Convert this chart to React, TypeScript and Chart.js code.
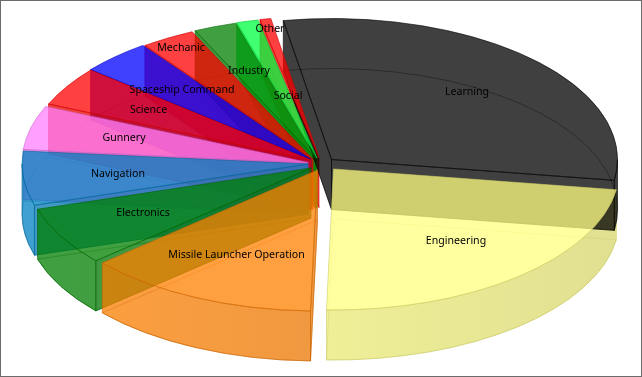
import React, { useEffect, useRef } from "react";
import { Chart, registerables } from "chart.js";

Chart.register(...registerables);

const categories = ["Learning", "Engineering", "Missile Launcher Operation", "Electronics", "Navigation", "Gunnery", "Science", "Spaceship Command", "Mechanic", "Industry", "Social", "Other"];
const shares = [108.2, 82.9, 47.4, 24.2, 22.3, 18.1, 16.2, 14.4, 11, 8.7, 4.4, 2.2];

// Styling and layout of the pseudo-3D pie
const rgb: number[][] = [[0,0,0],[255,255,128],[255,128,0],[0,128,0],[0,128,192],[255,128,255],[255,0,0],[0,0,255],[255,0,0],[0,128,0],[0,255,64],[255,0,0]];
const explodeX = [13.5, 15.5, -0.5, -7, -10, -10, -7, -7, -5, -2, -1, 1];
const explodeY = [0.5, 10, 11, 9, 5, 3.5, 1, 0.5, 0.5, -0.5, -1, -1.5];
const labelX = [467, 456, 236.5, 143, 118, 124, 148.5, 182, 181, 249, 288, 270];
const labelY = [92, 241, 255, 213, 174, 138, 110, 90, 48, 71, 96, 29];
const CX = 318, CY = 159, RX = 286, RY = 141, DEPTH = 50, ALPHA = 0.75;
const wallOrder = [11, 10, 9, 8, 7, 6, 5, 4, 3, 2, 1, 0];
const topOrder = [11, 10, 9, 8, 7, 6, 5, 4, 3, 2, 0, 1];

const col = (c: number[], s: number, a: number) => `rgba(${Math.round(c[0]*s)},${Math.round(c[1]*s)},${Math.round(c[2]*s)},${a})`;

const pie3d = {
  id: "pie3d",
  beforeDatasetsDraw(chart: any) {
    const ctx: CanvasRenderingContext2D = chart.ctx;
    const arcs = chart.getDatasetMeta(0).data;
    const geo = arcs.map((arc: any, i: number) => {
      const k = RX / arc.outerRadius, ky = RY / arc.outerRadius;
      return { i, a0: arc.startAngle, a1: arc.endAngle, x: CX + explodeX[i], y: CY + explodeY[i], rx: arc.outerRadius * k, ry: arc.outerRadius * ky };
    });
    ctx.save();
    ctx.lineWidth = 1;
    wallOrder.forEach((i) => {
      const g = geo[i], c = rgb[i];
      const stroke = col(c, 0.8, 0.6);
      // only radial walls that face the viewer are filled
      const facing: number[] = [];
      if (Math.cos(g.a0) < 0) facing.push(g.a0);
      if (Math.cos(g.a1) > 0) facing.push(g.a1);
      facing.forEach((a) => {
        const px = g.x + g.rx * Math.cos(a), py = g.y + g.ry * Math.sin(a);
        ctx.beginPath();
        ctx.moveTo(g.x, g.y); ctx.lineTo(px, py); ctx.lineTo(px, py + DEPTH); ctx.lineTo(g.x, g.y + DEPTH); ctx.closePath();
        ctx.fillStyle = col(c, 0.92, ALPHA);
        ctx.fill();
        ctx.strokeStyle = stroke;
        ctx.stroke();
      });
      const lo = Math.max(g.a0, 0), hi = Math.min(g.a1, Math.PI);
      if (lo < hi) {
        ctx.beginPath();
        ctx.ellipse(g.x, g.y, g.rx, g.ry, 0, lo, hi);
        ctx.ellipse(g.x, g.y + DEPTH, g.rx, g.ry, 0, hi, lo, true);
        ctx.closePath();
        const grad = ctx.createLinearGradient(CX - RX, 0, CX + RX, 0);
        grad.addColorStop(0, col(c, 1, ALPHA));
        grad.addColorStop(1, col(c, 0.84, ALPHA));
        ctx.fillStyle = grad;
        ctx.fill();
        ctx.strokeStyle = stroke;
        ctx.stroke();
      }
      // bottom face: outline only
      ctx.beginPath();
      ctx.moveTo(g.x, g.y + DEPTH);
      ctx.ellipse(g.x, g.y + DEPTH, g.rx, g.ry, 0, g.a0, g.a1);
      ctx.closePath();
      ctx.strokeStyle = col(c, 0.8, 0.35);
      ctx.stroke();
    });
    // top faces
    topOrder.forEach((i) => {
      const g = geo[i], c = rgb[i];
      ctx.beginPath();
      ctx.moveTo(g.x, g.y);
      ctx.ellipse(g.x, g.y, g.rx, g.ry, 0, g.a0, g.a1);
      ctx.closePath();
      ctx.fillStyle = col(c, 1, ALPHA);
      ctx.fill();
      ctx.strokeStyle = col(c, 0.8, 0.6);
      ctx.stroke();
    });
    ctx.restore();
    return false;
  },
  afterDraw(chart: any) {
    const ctx: CanvasRenderingContext2D = chart.ctx;
    ctx.save();
    ctx.font = '10.6px "Noto Sans"';
    ctx.fillStyle = "#000";
    ctx.textAlign = "center";
    ctx.textBaseline = "middle";
    chart.data.labels.forEach((t: string, i: number) => ctx.fillText(t, labelX[i], labelY[i]));
    ctx.strokeStyle = "#6b6b6b";
    ctx.lineWidth = 1;
    ctx.strokeRect(0.5, 0.5, 641, 376);
    ctx.restore();
  },
};

export default function App() {
  const ref = useRef<HTMLCanvasElement>(null);
  useEffect(() => {
    document.body.style.margin = "0";
    document.body.style.background = "#fff";
    const chart = new Chart(ref.current!, {
      type: "pie",
      data: { labels: categories, datasets: [{ data: shares, backgroundColor: rgb.map((c) => col(c, 1, ALPHA)), borderWidth: 0 }] },
      options: {
        responsive: false,
        animation: false,
        rotation: -9.7,
        layout: { padding: 0 },
        plugins: { legend: { display: false }, tooltip: { enabled: false }, title: { display: false } },
      },
      plugins: [pie3d],
    } as any);
    return () => chart.destroy();
  }, []);
  return <canvas ref={ref} width={642} height={377} style={{ display: "block" }} />;
}
